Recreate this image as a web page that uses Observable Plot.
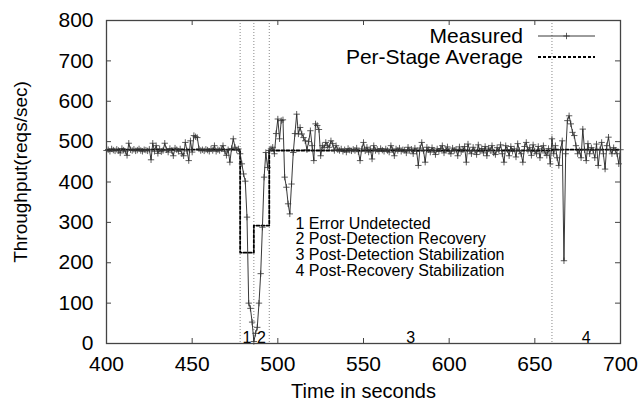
<!DOCTYPE html>
<html>
<head>
<meta charset="utf-8">
<script src="https://cdn.jsdelivr.net/npm/d3@7"></script>
<script src="https://cdn.jsdelivr.net/npm/@observablehq/plot@0.6"></script>
<style>
  html, body { margin: 0; padding: 0; background: #fff; }
  #wrap { position: relative; width: 641px; height: 405px; font-family: "Liberation Sans", Arial, sans-serif; }
  #legend { position: absolute; left: 0; top: 0; pointer-events: none; }
</style>
</head>
<body>
<div id="wrap"></div>
<script>
// ---- data ----
const tStart = 400; // seconds; one sample per second
const measured = [
  478,480,476,482,479,477,481,478,472,483, // 400-409
  479,476,466,496,480,478,481,477,479,482, // 410-419
  478,476,480,479,477,481,455,496,476,490, // 420-429
  471,482,475,478,496,480,474,483,478,465, // 430-439
  484,480,476,482,470,465,498,477,453,502, // 440-449
  474,515,512,510,482,478,480,477,481,479, // 450-459
  476,482,478,490,476,480,478,482,490,476, // 460-469
  466,480,449,483,507,486,479,482,470,445, // 470-479
  420,402,313,100,87,53,5,25,40,100,       // 480-489
  173,288,412,473,436,478,482,486,470,520, // 490-499
  556,507,552,554,412,387,346,321,395,473, // 500-509
  520,568,519,535,519,510,502,480,500,527, // 510-519
  490,453,544,540,530,465,490,485,498,490, // 520-529
  486,502,495,478,490,480,478,482,476,480, // 530-539
  474,483,479,477,481,478,484,475,453,482, // 540-549
  498,477,486,474,482,457,490,478,481,476, // 550-559
  483,479,476,482,478,474,490,480,465,482, // 560-569
  478,484,476,480,479,472,486,478,481,470, // 570-579
  484,476,441,484,498,478,449,486,480,474, // 580-589
  485,478,468,482,476,483,490,472,480,487, // 590-599
  476,470,484,478,481,465,487,475,480,488, // 600-609
  449,494,478,470,486,478,468,492,476,483, // 610-619
  472,488,465,484,478,490,472,468,485,478, // 620-629
  492,470,449,490,480,465,488,476,482,462, // 630-639
  495,478,470,449,488,498,478,485,466,492, // 640-649
  476,470,488,460,482,490,472,466,483,445, // 650-659
  507,470,490,460,441,480,502,205,470,552, // 660-669
  564,544,523,515,490,470,478,460,531,480, // 670-679
  453,495,470,485,478,460,494,441,480,498, // 680-689
  470,432,490,511,480,470,485,478,470,445, // 690-699
  480                                       // 700
];
const stageStarts = [478, 486, 495, 660];       // detected stage boundaries (s)
const stageEnd = 700;
const stageNums = ["1", "2", "3", "4"];
const stageNames = ["Error Undetected", "Post-Detection Recovery", "Post-Detection Stabilization", "Post-Recovery Stabilization"];
const avgTimes = [400, 478, 486, 495, 660, 700];
const avgValues = [480, 225, 292, 478, 480, 480];
const xTicks = [400, 450, 500, 550, 600, 650, 700];
const yTicks = [0, 100, 200, 300, 400, 500, 600, 700, 800];
const seriesNames = ["Measured", "Per-Stage Average"];
const xLabel = "Time in seconds";
const yLabel = "Throughput(reqs/sec)";

// ---- tables ----
const meas = measured.map((v, i) => ({t: tStart + i, v}));
const avg = avgTimes.map((t, i) => ({t, v: avgValues[i]}));
const bounds = [...stageStarts, stageEnd];
const stageLabels = stageNums.map((n, i) => ({t: (bounds[i] + bounds[i + 1]) / 2, n}));

const W = 641, H = 405;
const mL = 106, mR = 21, mT = 20, mB = 62;
const pw = W - mL - mR, ph = H - mT - mB;
const tick = 5;
const font = "Liberation Sans, Arial, sans-serif";

const chart = Plot.plot({
  width: W,
  height: H,
  marginLeft: mL, marginRight: mR, marginTop: mT, marginBottom: mB,
  style: {fontFamily: font, background: "#fff", color: "#000"},
  x: {domain: [400, 700]},
  y: {domain: [0, 800]},
  marks: [
    Plot.ruleX(stageStarts, {stroke: "#888", strokeWidth: 1, strokeDasharray: "1,2"}),
    Plot.line(avg, {x: "t", y: "v", curve: "step-after", stroke: "#000", strokeWidth: 1.8, strokeDasharray: "3,2"}),
    Plot.line(meas, {x: "t", y: "v", stroke: "#222", strokeWidth: 0.9}),
    Plot.dot(meas, {x: "t", y: "v", symbol: "plus", r: 2.2, stroke: "#333", strokeWidth: 0.8}),
    Plot.text([stageNames.map((s, i) => `${stageNums[i]} ${s}`).join("\n")], {
      frameAnchor: "top-left", dx: 189, dy: 197, lineAnchor: "top", textAnchor: "start",
      fontSize: 16, lineHeight: 0.98, fill: "#000"
    }),
    Plot.text(stageLabels, {x: "t", y: () => 0, text: "n", lineAnchor: "bottom", dy: -1, fontSize: 16, fill: "#000"}),
    // inward ticks (bottom/top/left/right)
    Plot.tickX(xTicks, {x: d => d, insetTop: ph - tick, stroke: "#444", strokeWidth: 1}),
    Plot.tickX(xTicks, {x: d => d, insetBottom: ph - tick, stroke: "#444", strokeWidth: 1}),
    Plot.tickY(yTicks, {y: d => d, insetRight: pw - tick, stroke: "#444", strokeWidth: 1}),
    Plot.tickY(yTicks, {y: d => d, insetLeft: pw - tick, stroke: "#444", strokeWidth: 1}),
    Plot.axisX({ticks: xTicks, tickSize: 0, tickPadding: 13, fontSize: 21, label: null}),
    Plot.axisY({ticks: yTicks, tickSize: 0, tickPadding: 13, fontSize: 21, label: null}),
    Plot.text([xLabel], {frameAnchor: "bottom", dy: 54, fontSize: 20, fill: "#000"}),
    Plot.text([yLabel], {frameAnchor: "left", textAnchor: "middle", dx: -86, dy: -10, rotate: -90, fontSize: 19, fill: "#000"}),
    Plot.frame({stroke: "#444", strokeWidth: 1.3})
  ]
});

const wrap = document.getElementById("wrap");
wrap.appendChild(chart);

// ---- legend (overlay, top right inside the frame) ----
const ns = "http://www.w3.org/2000/svg";
const leg = document.createElementNS(ns, "svg");
leg.setAttribute("id", "legend");
leg.setAttribute("width", W);
leg.setAttribute("height", H);
const rows = [{y: 36, dash: null}, {y: 57, dash: "3,2"}];
seriesNames.forEach((name, i) => {
  const r = rows[i];
  const tx = document.createElementNS(ns, "text");
  tx.setAttribute("x", 523);
  tx.setAttribute("y", r.y);
  tx.setAttribute("dy", "0.35em");
  tx.setAttribute("text-anchor", "end");
  tx.setAttribute("font-family", font);
  tx.setAttribute("font-size", 21);
  tx.textContent = name;
  leg.appendChild(tx);
  const ln = document.createElementNS(ns, "line");
  ln.setAttribute("x1", 538); ln.setAttribute("x2", 595);
  ln.setAttribute("y1", r.y); ln.setAttribute("y2", r.y);
  ln.setAttribute("stroke", i === 0 ? "#222" : "#000");
  ln.setAttribute("stroke-width", i === 0 ? 0.9 : 1.8);
  if (r.dash) ln.setAttribute("stroke-dasharray", r.dash);
  leg.appendChild(ln);
  if (i === 0) {
    const p = document.createElementNS(ns, "path");
    p.setAttribute("d", d3.symbol(d3.symbolPlus, 2.2 * 2.2 * Math.PI)());
    p.setAttribute("transform", `translate(566.5,${r.y})`);
    p.setAttribute("fill", "none");
    p.setAttribute("stroke", "#333");
    p.setAttribute("stroke-width", 0.8);
    leg.appendChild(p);
  }
});
wrap.appendChild(leg);
</script>
</body>
</html>
